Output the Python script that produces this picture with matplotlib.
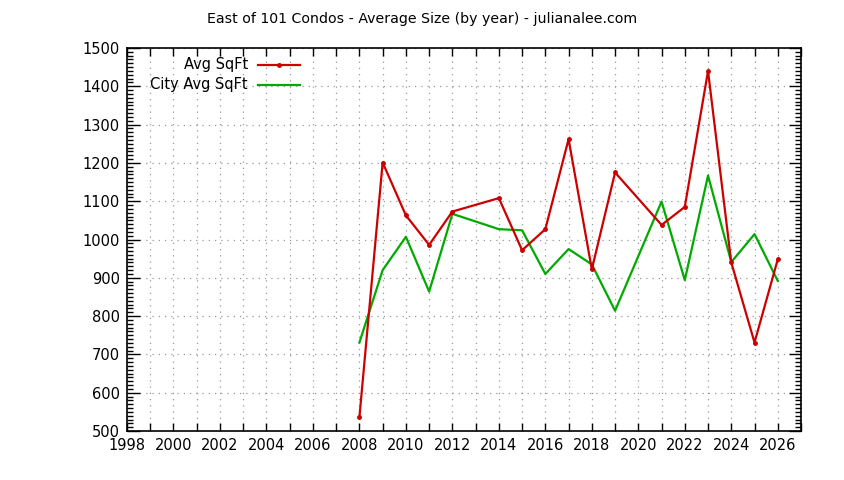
import matplotlib
matplotlib.use("Agg")
import matplotlib.pyplot as plt
from matplotlib.lines import Line2D
from matplotlib.ticker import MultipleLocator, FuncFormatter

title = "East of 101 Condos - Average Size (by year) - julianalee.com"

avg_years = [2008, 2009, 2010, 2011, 2012, 2014, 2015, 2016, 2017, 2018, 2019,
             2021, 2022, 2023, 2024, 2025, 2026]
avg_sqft = [536, 1201, 1063, 986, 1073, 1108, 972, 1027, 1262, 922, 1175,
            1038, 1085, 1440, 940, 731, 948]

city_years = [2008, 2009, 2010, 2011, 2012, 2014, 2015, 2016, 2017, 2018, 2019,
              2021, 2022, 2023, 2024, 2025, 2026]
city_sqft = [731, 920, 1007, 864, 1067, 1027, 1024, 910, 975, 935, 814,
             1099, 894, 1167, 941, 1014, 892]

series_labels = ['Avg SqFt', 'City Avg SqFt']
red = '#cc0000'
green = '#00aa00'

plt.rcParams['font.family'] = ['DejaVu Sans']
W, H = 844, 480
fig = plt.figure(figsize=(W / 100, H / 100), dpi=100)
ax = fig.add_axes([127/W, 1 - 431/H, (801-127)/W, (431-48)/H])

ax.plot(avg_years, avg_sqft, color=red, lw=1.6, marker='o', ms=2.5,
        label=series_labels[0], zorder=3)
ax.plot(city_years, city_sqft, color=green, lw=1.6, label=series_labels[1], zorder=2)

ax.set_xlim(1998, 2027)
ax.set_ylim(500, 1500)
ax.xaxis.set_major_locator(MultipleLocator(1))
ax.xaxis.set_major_formatter(FuncFormatter(lambda v, p: f"{int(round(v))}" if int(round(v)) % 2 == 0 else ""))
ax.yaxis.set_major_locator(MultipleLocator(100))
ax.yaxis.set_minor_locator(MultipleLocator(10))

ax.tick_params(axis='both', which='major', direction='in', top=True, right=True,
               length=6, width=1, labelsize=10.5, colors='black', pad=5)
ax.tick_params(axis='y', which='major', length=9)
ax.tick_params(axis='y', which='minor', direction='in', left=True, right=True,
               length=4, width=1)
ax.tick_params(axis='x', which='minor', bottom=False, top=False)

ax.grid(True, which='major', linestyle=(0, (1, 4)), color='#999999', lw=0.9)
for s in ax.spines.values():
    s.set_linewidth(1.2)

# gnuplot-style key: right-aligned text followed by line sample
key_rows = [(65, series_labels[0], red, 'o'), (85, series_labels[1], green, None)]
for ypix, lab, col, mk in key_rows:
    yf = 1 - ypix / H
    fig.text(248/W, yf, lab, ha='right', va='center', fontsize=10.5)
    fig.add_artist(Line2D([258/W, 300/W], [yf, yf], transform=fig.transFigure,
                          color=col, lw=1.6))
    if mk:
        fig.add_artist(Line2D([279/W], [yf], transform=fig.transFigure,
                              color=col, marker=mk, ms=2.5, lw=0))

fig.text(422/W, 1 - 19/H, title, ha='center', va='center', fontsize=10.2)

fig.savefig('out.png', dpi=100)
